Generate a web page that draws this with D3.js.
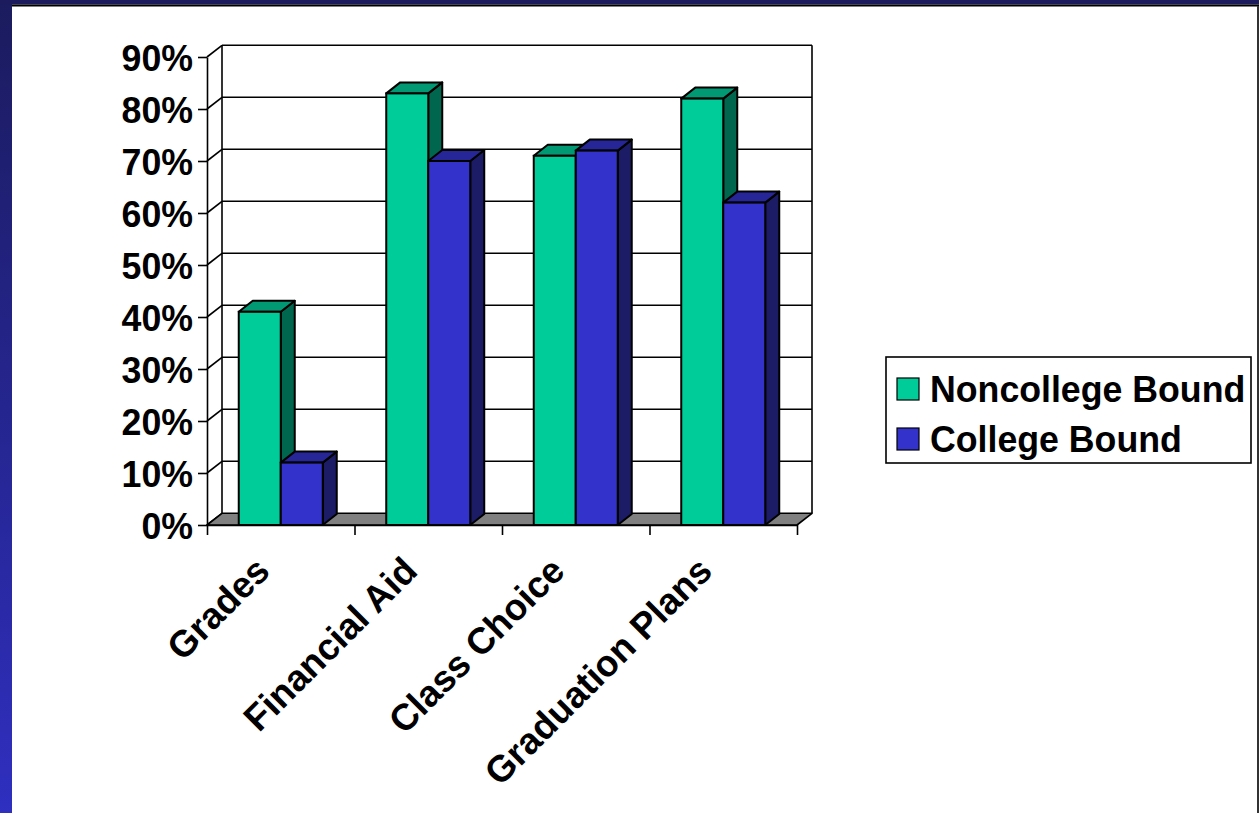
<!DOCTYPE html>
<html>
<head>
<meta charset="utf-8">
<script src="https://cdn.jsdelivr.net/npm/d3@7"></script>
<style>
  html, body { margin: 0; padding: 0; background: #fff; }
  svg { display: block; }
  text { font-family: "Liberation Sans", Arial, sans-serif; font-weight: bold; fill: #000; }
</style>
</head>
<body>
<svg id="chart" width="1259" height="813"></svg>
<script>
// ---- data ----
const categories = ["Grades", "Financial Aid", "Class Choice", "Graduation Plans"];
const seriesNames = ["Noncollege Bound", "College Bound"];
const noncollegeBound = [41, 83, 71, 82];
const collegeBound = [12, 70, 72, 62];
const yTickValues = [0, 10, 20, 30, 40, 50, 60, 70, 80, 90];
const yTickLabels = ["0%", "10%", "20%", "30%", "40%", "50%", "60%", "70%", "80%", "90%"];

// ---- styling ----
const FONT = 37, SX = 0.965, SX_CAT = 0.99;
const WALL_DX = 15, WALL_DY = -11.7;
const BAR_DX = 14, BAR_DY = -11;
const colors = {
  "Noncollege Bound": { front: "#00CC99", top: "#009973", side: "#00664D" },
  "College Bound":    { front: "#3333CC", top: "#262699", side: "#1C1C66" }
};

const svg = d3.select("#chart");
const W = 1259, H = 813;

// ---- slide background ----
const defs = svg.append("defs");
const lg = defs.append("linearGradient").attr("id", "leftGrad")
  .attr("x1", 0).attr("y1", 0).attr("x2", 0).attr("y2", 1);
lg.append("stop").attr("offset", "0%").attr("stop-color", "#1b1b5e");
lg.append("stop").attr("offset", "100%").attr("stop-color", "#2f2fc0");
svg.append("rect").attr("x", 0).attr("y", 0).attr("width", W).attr("height", H).attr("fill", "#fff");
svg.append("rect").attr("x", 0).attr("y", 0).attr("width", 12).attr("height", H).attr("fill", "url(#leftGrad)");
svg.append("rect").attr("x", 0).attr("y", 0).attr("width", W).attr("height", 4.5).attr("fill", "#1b1b5e");
svg.append("rect").attr("x", 12).attr("y", 4.5).attr("width", W - 12).attr("height", 2).attr("fill", "#000");
svg.append("rect").attr("x", W - 2).attr("y", 6).attr("width", 2).attr("height", H - 6).attr("fill", "#333");

// ---- scales ----
const x = d3.scaleBand().domain(categories).range([207, 797]).paddingInner(0).paddingOuter(0);
const xs = d3.scaleBand().domain(seriesNames).range([0, x.bandwidth()]).paddingInner(0).paddingOuter(0.756);
const xEdge = d3.scaleLinear().domain([0, categories.length]).range([207, 797]);
const y = d3.scaleLinear().domain([0, 90]).range([525, 57]);

const x0 = 207, x1 = 797, yb = y(0), yt = y(90);

// ---- back wall gridlines ----
const g = svg.append("g");
g.selectAll("line.grid").data(yTickValues).enter().append("line")
  .attr("x1", x0 + WALL_DX).attr("x2", x1 + WALL_DX)
  .attr("y1", d => y(d) + WALL_DY).attr("y2", d => y(d) + WALL_DY)
  .attr("stroke", d => d === 0 ? "none" : "#000").attr("stroke-width", 1.6);
// back wall right edge
g.append("line").attr("x1", x1 + WALL_DX).attr("x2", x1 + WALL_DX)
  .attr("y1", yt + WALL_DY).attr("y2", yb + WALL_DY).attr("stroke", "#000").attr("stroke-width", 1.6);
// left wall back edge
g.append("line").attr("x1", x0 + WALL_DX).attr("x2", x0 + WALL_DX)
  .attr("y1", yt + WALL_DY).attr("y2", yb + WALL_DY).attr("stroke", "#000").attr("stroke-width", 1.6);
// left wall diagonals
g.selectAll("line.diag").data(yTickValues).enter().append("line")
  .attr("x1", x0).attr("x2", x0 + WALL_DX)
  .attr("y1", d => y(d)).attr("y2", d => y(d) + WALL_DY)
  .attr("stroke", "#000").attr("stroke-width", 1.6);

// ---- floor ----
g.append("path")
  .attr("d", `M${x0},${yb} L${x1},${yb} L${x1 + WALL_DX},${yb + WALL_DY} L${x0 + WALL_DX},${yb + WALL_DY} Z`)
  .attr("fill", "#808080").attr("stroke", "#000").attr("stroke-width", 1.6).attr("stroke-linejoin", "round");

// ---- bars ----
const barData = [];
categories.forEach((c, i) => {
  barData.push({ cat: c, s: seriesNames[0], v: noncollegeBound[i] });
  barData.push({ cat: c, s: seriesNames[1], v: collegeBound[i] });
});
const bars = svg.append("g").selectAll("g.bar").data(barData).enter().append("g");
bars.each(function(d) {
  const sel = d3.select(this);
  const bx = x(d.cat) + xs(d.s), bw = xs.bandwidth();
  const top = y(d.v), bot = y(0);
  const col = colors[d.s];
  sel.append("path")
    .attr("d", `M${bx + bw},${top} L${bx + bw + BAR_DX},${top + BAR_DY} L${bx + bw + BAR_DX},${bot + BAR_DY} L${bx + bw},${bot} Z`)
    .attr("fill", col.side).attr("stroke", "#000").attr("stroke-width", 2).attr("stroke-linejoin", "round");
  sel.append("path")
    .attr("d", `M${bx},${top} L${bx + BAR_DX},${top + BAR_DY} L${bx + bw + BAR_DX},${top + BAR_DY} L${bx + bw},${top} Z`)
    .attr("fill", col.top).attr("stroke", "#000").attr("stroke-width", 2).attr("stroke-linejoin", "round");
  sel.append("rect")
    .attr("x", bx).attr("y", top).attr("width", bw).attr("height", bot - top)
    .attr("fill", col.front).attr("stroke", "#000").attr("stroke-width", 2);
});

// ---- y axis ----
const yAxis = d3.axisLeft(y).tickValues(yTickValues)
  .tickFormat((d, i) => yTickLabels[i]).tickSize(9).tickSizeOuter(0).tickPadding(5);
const yg = svg.append("g").attr("transform", `translate(${x0},0)`).call(yAxis);
yg.select(".domain").attr("stroke", "#000").attr("stroke-width", 1.6);
yg.selectAll(".tick line").attr("stroke", "#000").attr("stroke-width", 1.6);
yg.selectAll(".tick text")
  .attr("x", null).attr("dy", "0.36em")
  .attr("transform", `translate(-14,0) scale(${SX},1)`)
  .style("font-size", FONT + "px").style("font-family", '"Liberation Sans", Arial, sans-serif')
  .style("font-weight", "bold").attr("fill", "#000");

// ---- x axis (ticks at category boundaries) ----
const xAxis = d3.axisBottom(xEdge).tickValues(d3.range(categories.length + 1))
  .tickFormat("").tickSize(10).tickSizeOuter(0);
const xg = svg.append("g").attr("transform", `translate(0,${yb})`).call(xAxis);
xg.select(".domain").attr("stroke", "#000").attr("stroke-width", 1.6);
xg.selectAll(".tick line").attr("stroke", "#000").attr("stroke-width", 1.6);

// category labels
svg.append("g").selectAll("text.cat").data(categories).enter().append("text")
  .attr("text-anchor", "end")
  .attr("transform", d => `translate(${x(d) + x.bandwidth() / 2 - 9},573) rotate(-45) scale(${SX_CAT},1)`)
  .style("font-size", FONT + "px")
  .text(d => d);

// ---- legend ----
const leg = svg.append("g");
leg.append("rect").attr("x", 886).attr("y", 357).attr("width", 365).attr("height", 106)
  .attr("fill", "#fff").attr("stroke", "#000").attr("stroke-width", 1.6);
const legRows = [{ s: seriesNames[0], base: 401.5 }, { s: seriesNames[1], base: 451.5 }];
legRows.forEach(r => {
  leg.append("rect").attr("x", 897).attr("y", r.base - 23.5).attr("width", 22).attr("height", 22)
    .attr("fill", colors[r.s].front).attr("stroke", "#000").attr("stroke-width", 1.2);
  leg.append("text").attr("transform", `translate(930,${r.base}) scale(${SX},1)`)
    .style("font-size", FONT + "px").text(r.s);
});
</script>
</body>
</html>
